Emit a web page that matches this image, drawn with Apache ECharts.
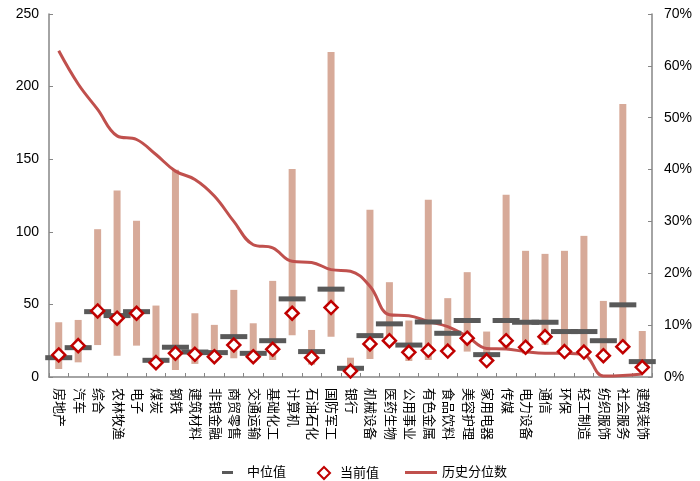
<!DOCTYPE html>
<html>
<head>
<meta charset="utf-8">
<script src="https://cdn.jsdelivr.net/npm/echarts@6/dist/echarts.min.js"></script>
<style>html,body{margin:0;padding:0;background:#fff}#c{width:700px;height:481px}</style>
</head>
<body>
<div id="c"></div>
<script>
const categories = ['房地产','汽车','综合','农林牧渔','电子','煤炭','钢铁','建筑材料','非银金融','商贸零售','交通运输','基础化工','计算机','石油石化','国防军工','银行','机械设备','医药生物','公用事业','有色金属','食品饮料','美容护理','家用电器','传媒','电力设备','通信','环保','轻工制造','纺织服饰','社会服务','建筑装饰'];
const maxVals = [37.7, 39.3, 101.8, 128.5, 107.6, 49.2, 142.8, 43.9, 35.9, 60, 37, 66.2, 143.2, 32.4, 223.9, 13.3, 115.2, 65.3, 38.9, 122, 54.3, 72.2, 31.3, 125.5, 86.9, 84.8, 86.9, 97.2, 52.4, 188, 31.7];
const minVals = [5.5, 10.1, 22, 14.7, 21.6, 7, 4.8, 9, 11.7, 12.9, 10.6, 11.7, 28.8, 8.5, 27.8, 3, 12.4, 23.5, 11, 11.7, 20, 17.5, 10, 20, 16, 22, 15, 16, 12, 22, 5];
const medianVals = [13.3, 20.2, 45, 42.3, 45, 11.5, 20.5, 17.2, 16.8, 27.8, 16.3, 25, 53.8, 17.5, 60.5, 6, 28.5, 36.6, 22, 37.9, 30.1, 38.9, 15.4, 38.9, 37.7, 37.7, 31.3, 31.3, 25, 49.7, 10.6];
const currentVals = [15.2, 21.6, 45.5, 40.5, 43.9, 9.9, 16.3, 15.6, 14, 22, 14, 19.1, 43.9, 13.3, 47.8, 4.1, 22.8, 25, 17, 18.4, 17.9, 26.7, 11.3, 25, 20.5, 27.8, 17.5, 17.2, 14.7, 20.9, 6.7];
const percentileVals = [62.9, 56.5, 51.6, 46.5, 45.8, 42.9, 39.7, 38.1, 34.9, 30, 25.5, 24.9, 22.3, 22.1, 20.7, 20.4, 17.5, 12, 11.8, 10.7, 9.7, 7.8, 5.5, 5.4, 4.9, 4.6, 4.6, 4.3, 0.2, 0.3, 0.6];
const leftTicks = {min: 0, max: 250, interval: 50};
const rightTicks = {min: 0, max: 70, interval: 10};

const FONT = '"Liberation Sans", Arial, "Noto Sans CJK SC", sans-serif';
const chart = echarts.init(document.getElementById('c'));
const axisLine = {show: true, lineStyle: {color: '#868686', width: 1.5}};
const rangeSpan = maxVals.map((v, i) => v - minVals[i]);

chart.setOption({
  animation: false,
  textStyle: {fontFamily: FONT},
  grid: {left: 49, right: 48, top: 14, bottom: 104, containLabel: false},
  legend: [
    {data: ['中位值'], left: 217, top: 461, itemWidth: 11, itemHeight: 3, icon: 'rect',
     textStyle: {fontSize: 13, color: '#000', fontFamily: FONT, padding: [0, 0, 0, 9]}},
    {data: ['当前值'], left: 312, top: 461, itemWidth: 12, itemHeight: 12, icon: 'diamond',
     textStyle: {fontSize: 13, color: '#000', fontFamily: FONT, padding: [0, 0, 0, 5]}},
    {data: ['历史分位数'], left: 400, top: 461, itemWidth: 32, itemHeight: 3, icon: 'rect',
     textStyle: {fontSize: 13, color: '#000', fontFamily: FONT}}
  ],
  xAxis: {
    type: 'category', data: categories, boundaryGap: true,
    axisLine: axisLine,
    axisTick: {show: true, inside: true, interval: 0, length: 4, lineStyle: {color: '#868686'}},
    axisLabel: {interval: 0, rotate: -90, fontSize: 13, color: '#000', margin: 11, fontFamily: FONT}
  },
  yAxis: [
    {type: 'value', min: leftTicks.min, max: leftTicks.max, interval: leftTicks.interval,
     splitLine: {show: false}, axisLine: axisLine,
     axisTick: {show: true, inside: true, length: 4, lineStyle: {color: '#868686'}},
     axisLabel: {fontSize: 14, color: '#000', margin: 10, fontFamily: FONT}},
    {type: 'value', min: rightTicks.min, max: rightTicks.max, interval: rightTicks.interval,
     position: 'right', splitLine: {show: false}, axisLine: axisLine,
     axisTick: {show: true, inside: true, length: 4, lineStyle: {color: '#868686'}},
     axisLabel: {fontSize: 14, color: '#000', margin: 12, formatter: '{value}%', fontFamily: FONT}}
  ],
  series: [
    {name: 'base', type: 'bar', stack: 'r', data: minVals, barWidth: 7,
     itemStyle: {color: 'rgba(0,0,0,0)'}, silent: true, z: 1},
    {name: '区间', type: 'bar', stack: 'r', data: rangeSpan, barWidth: 7,
     itemStyle: {color: '#d7aa99'}, z: 1},
    {name: '历史分位数', type: 'line', yAxisIndex: 1, data: percentileVals, smooth: 0.4,
     showSymbol: false, symbol: 'none', lineStyle: {color: '#c0504d', width: 3},
     itemStyle: {color: '#c0504d'}, z: 2},
    {name: '中位值', type: 'scatter', data: medianVals, symbol: 'rect', symbolSize: [27, 5],
     itemStyle: {color: '#595959', opacity: 1}, z: 3},
    {name: '当前值', type: 'scatter', data: currentVals, symbol: 'diamond', symbolSize: 13,
     itemStyle: {color: '#ffffff', borderColor: '#c00000', borderWidth: 2.5, opacity: 1}, z: 4}
  ]
});
</script>
</body>
</html>
